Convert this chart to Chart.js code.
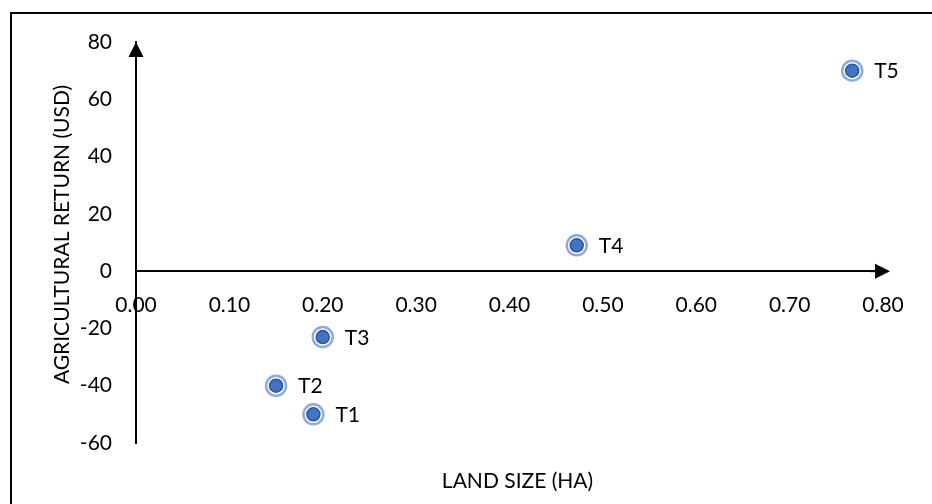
<!DOCTYPE html>
<html>
<head>
<meta charset="utf-8">
<script src="https://cdn.jsdelivr.net/npm/chart.js@4.4.0/dist/chart.umd.min.js"></script>
<style>
  html, body { margin: 0; padding: 0; background: #fff; }
  #wrap { position: relative; width: 932px; height: 504px; }
</style>
</head>
<body>
<div id="wrap"><canvas id="c" width="932" height="504"></canvas></div>
<script>
// ---- data ----
const pointLabels = ['T1', 'T2', 'T3', 'T4', 'T5'];
const landSize = [0.19, 0.15, 0.20, 0.472, 0.767];  // HA
const agriReturn = [-50, -40, -23, 9, 70];          // USD
const xTicks = [0, 0.1, 0.2, 0.3, 0.4, 0.5, 0.6, 0.7, 0.8];
const yTicks = [-60, -40, -20, 0, 20, 40, 60, 80];
const xTitle = 'LAND SIZE (HA)';
const yTitle = 'AGRICULTURAL RETURN (USD)';

const FONT = 'Lato, "Open Sans", sans-serif';
const FS = 21;
const points = landSize.map((x, i) => ({ x: x, y: agriReturn[i] }));

const framePlugin = {
  id: 'frame',
  beforeDraw(chart) {
    const ctx = chart.ctx;
    ctx.save();
    ctx.strokeStyle = '#000';
    ctx.lineWidth = 2;
    ctx.beginPath();
    ctx.moveTo(11, 504);
    ctx.lineTo(11, 13);
    ctx.lineTo(932, 13);
    ctx.stroke();
    ctx.restore();
  }
};

const decorPlugin = {
  id: 'decor',
  afterDraw(chart) {
    const ctx = chart.ctx;
    const xs = chart.scales.x, ys = chart.scales.y;
    const ca = chart.chartArea;
    ctx.save();
    ctx.fillStyle = '#000';
    // y axis arrow
    const ax = xs.getPixelForValue(0);
    const ay = ys.getPixelForValue(yTicks[yTicks.length - 1]);
    ctx.beginPath();
    ctx.moveTo(ax, ay);
    ctx.lineTo(ax - 7.5, ay + 15);
    ctx.lineTo(ax + 7.5, ay + 15);
    ctx.closePath();
    ctx.fill();
    // x axis arrow
    const bx = xs.getPixelForValue(xTicks[xTicks.length - 1]) + 7;
    const by = ys.getPixelForValue(0);
    ctx.fillRect(bx - 20, by - 1, 8, 2);
    ctx.beginPath();
    ctx.moveTo(bx, by);
    ctx.lineTo(bx - 15, by - 7.5);
    ctx.lineTo(bx - 15, by + 7.5);
    ctx.closePath();
    ctx.fill();
    // point labels
    ctx.font = FS + 'px ' + FONT;
    ctx.textAlign = 'left';
    ctx.textBaseline = 'middle';
    const meta = chart.getDatasetMeta(0);
    meta.data.forEach((el, i) => {
      ctx.fillText(pointLabels[i], el.x + 22, el.y + 1);
    });
    // axis titles
    ctx.textAlign = 'center';
    ctx.fillText(xTitle, (ca.left + ca.right) / 2 + 8, 481);
    ctx.translate(62, (ca.top + ca.bottom) / 2 - 8);
    ctx.rotate(-Math.PI / 2);
    ctx.fillText(yTitle, 0, 0);
    ctx.restore();
  }
};

new Chart(document.getElementById('c'), {
  type: 'scatter',
  data: {
    datasets: [
      {
        data: points,
        order: 0,
        pointRadius: 6.5,
        pointHoverRadius: 6.5,
        backgroundColor: '#4472C4',
        borderColor: '#2F5597',
        borderWidth: 1.5
      },
      {
        data: points,
        order: 1,
        pointRadius: 10,
        pointHoverRadius: 10,
        backgroundColor: '#ffffff',
        borderColor: '#8FAADC',
        borderWidth: 2.5
      }
    ]
  },
  options: {
    responsive: false,
    animation: false,
    events: [],
    clip: false,
    layout: { padding: { left: 0, top: 42, right: 49, bottom: 61 } },
    plugins: { legend: { display: false }, tooltip: { enabled: false }, title: { display: false } },
    scales: {
      x: {
        type: 'linear',
        position: { y: 0 },
        min: xTicks[0],
        max: xTicks[xTicks.length - 1],
        afterBuildTicks: (s) => { s.ticks = xTicks.map(v => ({ value: v })); },
        afterFit: (s) => { s.height = 0; },
        grid: { display: false, drawTicks: false },
        border: { display: true, color: '#000', width: 2 },
        ticks: {
          autoSkip: false, maxRotation: 0, padding: 21,
          color: '#000', font: { family: FONT, size: FS },
          callback: (v) => Number(v).toFixed(2)
        }
      },
      y: {
        type: 'linear',
        position: 'left',
        min: yTicks[0],
        max: yTicks[yTicks.length - 1],
        afterBuildTicks: (s) => { s.ticks = yTicks.map(v => ({ value: v })); },
        afterFit: (s) => { s.width = 136; },
        grid: { display: false, drawTicks: false },
        border: { display: true, color: '#000', width: 2 },
        ticks: {
          autoSkip: false, padding: 24,
          color: '#000', font: { family: FONT, size: FS }
        }
      }
    }
  },
  plugins: [framePlugin, decorPlugin]
});
</script>
</body>
</html>
